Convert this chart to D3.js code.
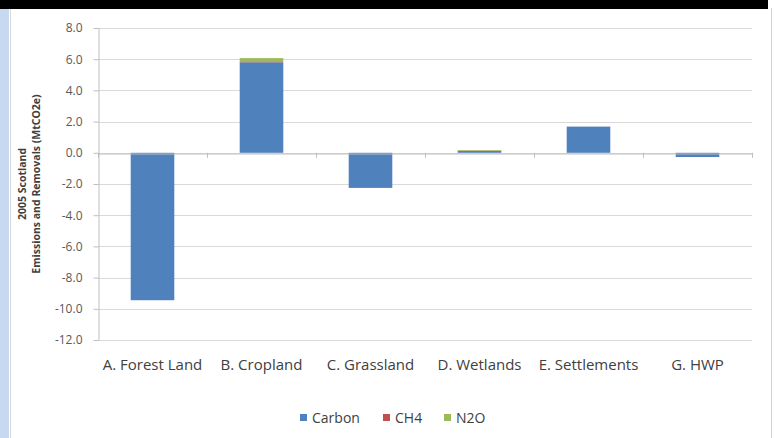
<!DOCTYPE html>
<html><head><meta charset="utf-8">
<script src="https://cdn.jsdelivr.net/npm/d3@7"></script>
<style>body{margin:0;background:#fff;}svg{display:block;}</style>
</head><body>
<svg id="c" width="774" height="438"></svg>
<script>
const categories = ["A. Forest Land","B. Cropland","C. Grassland","D. Wetlands","E. Settlements","G. HWP"];
const seriesNames = ["Carbon","CH4","N2O"];
const carbon = [-9.45, 5.8, -2.25, 0.12, 1.68, -0.27];
const ch4 = [0, 0.02, 0, 0.02, 0, 0];
const n2o = [0, 0.25, 0, 0.04, 0, 0];
const yTicks = [8,6,4,2,0,-2,-4,-6,-8,-10,-12];
const colors = ["#4F81BD","#C0504D","#9BBB59"];
const yTitle1 = "2005 Scotland";
const yTitle2 = "Emissions and Removals (MtCO2e)";
const FONT = "Open Sans, Liberation Sans, sans-serif";

const svg = d3.select("#c");
svg.append("rect").attr("x",0).attr("y",0).attr("width",9).attr("height",438).attr("fill","#c6d9f1");
svg.append("line").attr("x1",10.5).attr("x2",10.5).attr("y1",8).attr("y2",438).attr("stroke","#d9d9d9");
svg.append("line").attr("x1",771.5).attr("x2",771.5).attr("y1",8).attr("y2",438).attr("stroke","#d0d0d0");
svg.append("rect").attr("x",0).attr("y",0).attr("width",768).attr("height",9).attr("fill","#000");

const x = d3.scaleBand().domain(categories).range([98,752]).paddingInner(0.6).paddingOuter(0.3);
const xb = d3.scaleBand().domain(categories).range([98,752]);
const y = d3.scaleLinear().domain([-12,8]).range([340,28]);

svg.append("g").selectAll("line").data(yTicks).join("line")
  .attr("x1",98).attr("x2",752).attr("y1",d=>Math.round(y(d))+0.5).attr("y2",d=>Math.round(y(d))+0.5)
  .attr("stroke","#d9d9d9");

const ya = svg.append("g").attr("transform","translate(98.5,0)")
  .call(d3.axisLeft(y).tickValues(yTicks).tickFormat(d=>d3.format(".1f")(d).replace("\u2212","-")).tickSize(5).tickSizeOuter(0));
ya.select(".domain").attr("stroke","#bfbfbf");
ya.selectAll(".tick line").attr("stroke","#bfbfbf");
ya.selectAll(".tick text").attr("fill","#595959").attr("font-family",FONT).attr("font-size","12px").attr("x",-16);

const stackData = categories.map((c,i)=>({cat:c, Carbon:carbon[i], CH4:ch4[i], N2O:n2o[i]}));
const layers = d3.stack().keys(seriesNames).offset(d3.stackOffsetDiverging)(stackData);
svg.append("g").selectAll("g").data(layers).join("g").attr("fill",(d,i)=>colors[i])
  .selectAll("rect").data(d=>d.filter(p=>p[0]!==p[1])).join("rect")
  .attr("x",d=>x(d.data.cat)).attr("width",x.bandwidth())
  .attr("y",d=>y(Math.max(d[0],d[1]))).attr("height",d=>Math.abs(y(d[0])-y(d[1])));

const xa = svg.append("g").attr("transform",`translate(0,${Math.round(y(0))+0.5})`)
  .call(d3.axisBottom(xb).tickSize(0).tickFormat(""));
xa.select(".domain").attr("stroke","#bfbfbf");
const bounds = categories.map(c=>xb(c)).concat([752]);
svg.append("g").selectAll("line").data(bounds).join("line")
  .attr("x1",d=>Math.round(d)+0.5).attr("x2",d=>Math.round(d)+0.5)
  .attr("y1",y(0)).attr("y2",y(0)+5).attr("stroke","#bfbfbf");

svg.append("g").selectAll("text").data(categories).join("text")
  .attr("x",d=>xb(d)+xb.bandwidth()/2).attr("y",370).attr("text-anchor","middle")
  .attr("font-family",FONT).attr("font-size","15px").attr("fill","#404040")
  .text(d=>d);

const yt = svg.append("g").attr("transform","translate(0,184)");
yt.append("text").attr("transform","translate(26,0) rotate(-90)").attr("text-anchor","middle")
  .attr("font-family",FONT).attr("font-size","10.5px").attr("font-weight","bold").attr("fill","#404040").text(yTitle1);
yt.append("text").attr("transform","translate(40,0) rotate(-90)").attr("text-anchor","middle")
  .attr("font-family",FONT).attr("font-size","10.5px").attr("font-weight","bold").attr("fill","#404040").text(yTitle2);

const legX = [300, 383, 444];
const lg = svg.append("g");
seriesNames.forEach((s,i)=>{
  lg.append("rect").attr("x",legX[i]).attr("y",414).attr("width",7).attr("height",7).attr("fill",colors[i]);
  lg.append("text").attr("x",legX[i]+12).attr("y",423).attr("font-family",FONT)
    .attr("font-size","14px").attr("fill","#404040").text(s);
});
</script>
</body></html>
